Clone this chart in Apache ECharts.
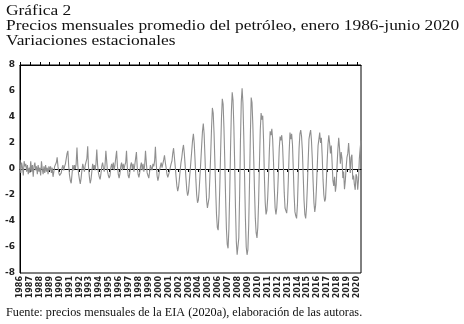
<!DOCTYPE html>
<html>
<head>
<meta charset="utf-8">
<script src="https://cdn.jsdelivr.net/npm/echarts@6/dist/echarts.min.js"></script>
<style>
  html, body { margin: 0; padding: 0; background: #fff; }
  #chart { width: 464px; height: 324px; }
</style>
</head>
<body>
<div id="chart"></div>
<script>
// Year tick labels (one per January)
const yearLabels = ['1986','1987','1988','1989','1990','1991','1992','1993','1994','1995',
  '1996','1997','1998','1999','2000','2001','2002','2003','2004','2005','2006','2007',
  '2008','2009','2010','2011','2012','2013','2014','2015','2016','2017','2018','2019','2020'];

// Seasonal variation of the monthly average oil price, Jan 1986 - Jun 2020 (one row per year)
const seasonal = [
  0.7, -0.3, 0.5, 0.1, -0.5, 0.6, 0.2, 0.4, -0.2, 0.3, -0.4, 0.1,        // 1986
  -0.3, 0.6, -0.2, 0.3, -0.6, 0.2, 0.5, -0.1, 0.2, -0.4, 0.3, -0.2,      // 1987
  0.1, -0.5, 0.6, 0.0, -0.4, 0.2, -0.3, 0.3, -0.2, 0.1, -0.4, 0.2,       // 1988
  -0.1, 0.2, -0.3, 0.1, -0.6, -0.2, 0.2, 0.3, 0.5, 0.9, 0.2, -0.3,       // 1989
  -0.5, -0.6, -0.3, 0.1, 0.3, -0.1, 0.2, 0.4, 0.8, 1.2, 1.4, 0.2,        // 1990
  -0.5, -0.9, -1.1, -0.4, 0.3, -0.1, 0.3, 0.0, 0.4, 1.65, 0.3, -0.4,     // 1991
  -0.8, -1.15, -0.7, -0.1, 0.4, 0.1, -0.2, 0.3, 0.2, 0.8, 1.75, 0.1,     // 1992
  -0.6, -1.1, -0.8, -0.2, 0.4, 0.0, 0.3, -0.1, 0.4, 1.5, 0.3, -0.3,      // 1993
  -0.6, -0.8, -0.4, 0.2, 0.5, 0.1, -0.2, 0.3, 1.4, 0.6, -0.2, -0.5,      // 1994
  -0.7, -0.5, 0.1, 0.4, 0.0, 0.5, -0.1, 0.3, 0.4, 1.4, 0.2, -0.4,        // 1995
  -0.7, -0.4, 0.2, 0.5, -0.1, 0.4, 0.0, 0.3, 0.5, 1.4, 0.1, -0.5,        // 1996
  -0.7, -0.3, 0.3, 0.5, 0.0, 0.4, -0.2, 0.3, 0.4, 1.3, 0.1, -0.4,        // 1997
  -0.65, -0.3, 0.2, 0.5, -0.1, 0.4, -0.2, 0.3, 1.4, 0.5, -0.3, -0.5,     // 1998
  -0.7, -0.2, 0.3, 0.4, -0.1, 0.4, 0.2, 0.6, 1.7, 0.4, -0.5, -0.9,       // 1999
  -0.6, -0.1, 0.2, 0.5, 0.1, 0.4, 0.7, 1.05, 0.5, 0.1, -0.4, -0.65,      // 2000
  -0.5, -0.2, 0.1, 0.4, 0.6, 1.2, 1.6, 0.9, 0.2, -0.6, -1.3, -1.7,       // 2001
  -1.4, -0.8, -0.1, 0.5, 0.9, 1.5, 1.85, 1.2, 0.3, -0.7, -1.6, -2.05,    // 2002
  -1.8, -1.0, -0.2, 0.6, 1.4, 2.2, 2.7, 2.0, 0.7, -0.8, -2.0, -2.6,      // 2003
  -2.4, -1.6, -0.5, 0.6, 1.8, 2.9, 3.5, 2.7, 1.0, -0.9, -2.4, -3.0,      // 2004
  -3.15, -2.2, -0.6, 1.2, 3.2, 4.7, 4.3, 2.8, 0.6, -1.6, -3.5, -4.5,     // 2005
  -4.7, -3.5, -1.3, 1.4, 3.9, 5.4, 5.0, 3.2, 0.7, -2.2, -4.6, -5.8,      // 2006
  -6.1, -4.6, -1.8, 1.6, 4.4, 5.9, 5.3, 3.3, 0.4, -3.0, -5.6, -6.6,      // 2007
  -6.75, -5.3, -2.0, 2.2, 5.2, 6.2, 5.1, 2.6, -0.6, -3.8, -6.0, -6.6,    // 2008
  -6.2, -4.3, -1.0, 2.6, 5.5, 5.1, 3.4, 1.0, -1.6, -3.8, -4.9, -5.3,     // 2009
  -4.5, -2.5, 0.4, 3.0, 4.3, 3.8, 4.1, 2.2, -0.6, -2.6, -3.5, -3.2,      // 2010
  -2.2, -0.6, 1.4, 2.9, 2.6, 3.1, 2.3, 0.6, -1.5, -3.0, -3.5, -3.0,      // 2011
  -1.8, -0.2, 1.6, 2.5, 2.2, 2.6, 1.8, 0.2, -1.8, -3.0, -3.2, -3.4,      // 2012
  -2.6, -0.8, 1.3, 2.8, 2.3, 2.7, 1.9, 0.0, -2.0, -3.3, -3.6, -3.8,      // 2013
  -2.8, -0.6, 1.6, 2.7, 3.0, 2.5, 1.4, -0.5, -2.4, -3.5, -3.8, -3.0,     // 2014
  -1.4, 0.6, 2.3, 2.7, 3.0, 2.2, 0.8, -1.0, -2.6, -3.3, -2.8, -1.5,      // 2015
  0.2, 1.8, 2.3, 2.8, 2.0, 2.4, 1.0, -0.8, -2.0, -2.5, -2.3, -1.0,       // 2016
  0.6, 1.9, 2.6, 2.0, 1.2, 1.8, 0.5, -0.9, -1.3, -0.6, -1.75, -1.2,      // 2017
  0.3, 1.5, 2.4, 1.6, 0.4, 1.3, 0.8, -0.7, -0.2, -1.55, -0.9, 0.1,       // 2018
  0.9, 1.2, 2.0, 1.0, -0.3, 0.9, 1.1, -0.8, -0.5, -1.2, -1.6, -0.4,      // 2019
  -0.6, -1.6, -0.8, 0.8, 1.6, 2.2                                        // 2020
];

const yTicks = { min: -8, max: 8, step: 2 };

// One category per month, labelled by year
const monthCats = [];
yearLabels.forEach(function (y) {
  for (let m = 1; m <= 12; m++) monthCats.push(y + '-' + (m < 10 ? '0' + m : m));
});
monthCats.length = seasonal.length;

const chart = echarts.init(document.getElementById('chart'), null, { renderer: 'canvas' });

const serif = "'Liberation Serif', 'Times New Roman', serif";
const sans = "'DejaVu Sans', 'Liberation Sans', sans-serif";

chart.setOption({
  animation: false,
  backgroundColor: '#ffffff',
  grid: {
    left: 20, right: 103, top: 65, bottom: 51,
    show: true, borderColor: '#000', borderWidth: 1, backgroundColor: 'transparent'
  },
  graphic: [
    { type: 'text', x: 6, y: 4, scaleX: 1.16, style: { text: 'Gráfica 2', font: '15px ' + serif, fill: '#111' } },
    { type: 'text', x: 6, y: 19, scaleX: 1.16, style: { text: 'Precios mensuales promedio del petróleo, enero 1986-junio 2020', font: '15px ' + serif, fill: '#111' } },
    { type: 'text', x: 6, y: 34, scaleX: 1.16, style: { text: 'Variaciones estacionales', font: '15px ' + serif, fill: '#111' } },
    { type: 'text', x: 6, y: 307, scaleX: 1.02, style: { text: 'Fuente: precios mensuales de la EIA (2020a), elaboración de las autoras.', font: '12px ' + serif, fill: '#111' } }
  ],
  xAxis: [
    {
      // zero line with tick marks below it
      type: 'category', data: monthCats, boundaryGap: false, position: 'bottom',
      axisLine: { onZero: true, lineStyle: { color: '#000', width: 1 } },
      axisTick: { show: true, interval: 11, length: 3, lineStyle: { color: '#000' } },
      axisLabel: { show: false, interval: 11 }, splitLine: { show: false }
    },
    {
      // zero line tick marks above it
      type: 'category', data: monthCats, boundaryGap: false, position: 'top',
      axisLine: { onZero: true, lineStyle: { color: '#000', width: 1 } },
      axisTick: { show: true, interval: 11, length: 3, lineStyle: { color: '#000' } },
      axisLabel: { show: false, interval: 11 }, splitLine: { show: false }
    },
    {
      // year labels along the bottom frame
      type: 'category', data: monthCats, boundaryGap: false, position: 'bottom',
      axisLine: { show: false, onZero: false }, axisTick: { show: false },
      splitLine: { show: false },
      axisLabel: {
        interval: 11, rotate: 90, margin: 3,
        formatter: function (v) { return v.slice(0, 4); },
        fontFamily: sans, fontSize: 8, fontWeight: 'bold', color: '#222'
      }
    }
  ],
  yAxis: {
    type: 'value', min: yTicks.min, max: yTicks.max, interval: yTicks.step,
    axisLine: { show: true, lineStyle: { color: '#000' } },
    axisTick: { show: false }, splitLine: { show: false },
    axisLabel: { fontFamily: sans, fontSize: 9, fontWeight: 'bold', color: '#222', margin: 5 }
  },
  series: [{
    type: 'line', data: seasonal, xAxisIndex: 0, showSymbol: false, symbol: 'none',
    lineStyle: { color: '#8f8f8f', width: 1.1 }, z: 1
  }]
});
</script>
</body>
</html>
